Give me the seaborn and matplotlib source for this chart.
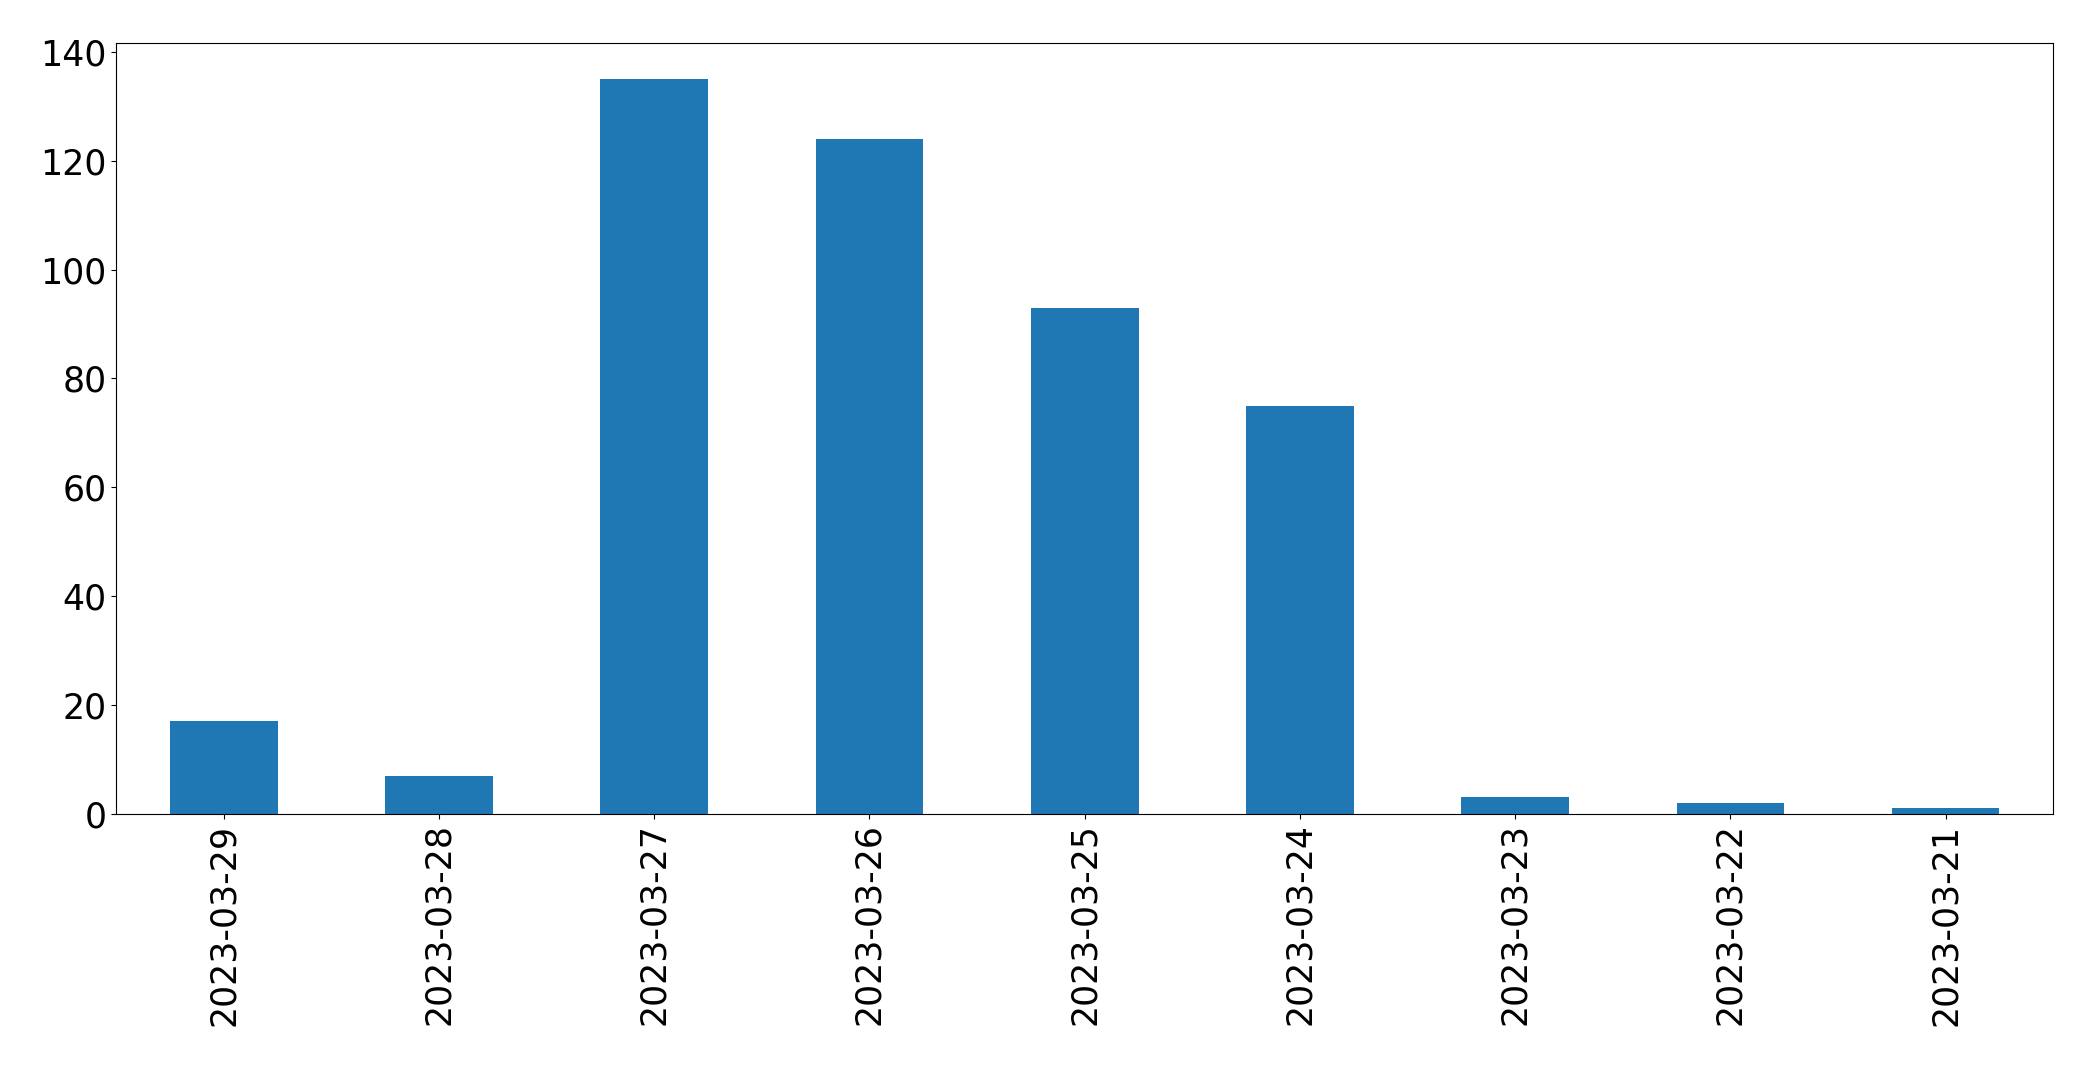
import matplotlib
matplotlib.use('Agg')
import matplotlib.pyplot as plt
import seaborn as sns
import pandas as pd

#daily counts, newest first like the original
dates = ['2023-03-29', '2023-03-28', '2023-03-27', '2023-03-26', '2023-03-25',
         '2023-03-24', '2023-03-23', '2023-03-22', '2023-03-21']
counts = [17, 7, 135, 124, 93, 75, 3, 2, 1]

df = pd.DataFrame({'date': dates, 'count': counts})

fig, ax = plt.subplots(figsize=(20.93, 10.65), dpi=100)

sns.barplot(x='date', y='count', data=df, order=dates,
            color='#1f77b4', saturation=1, width=0.5, ax=ax)

ax.set_xlim(-0.5, len(dates) - 0.5)
ax.set_ylim(0, max(counts) * 1.05)
ax.set_xlabel('')
ax.set_ylabel('')
ax.tick_params(axis='x', labelrotation=90, labelsize=25)
ax.tick_params(axis='y', labelsize=25)

plt.subplots_adjust(left=0.0555, right=0.981, top=0.96, bottom=0.236)
plt.savefig('out.png', dpi=100)
